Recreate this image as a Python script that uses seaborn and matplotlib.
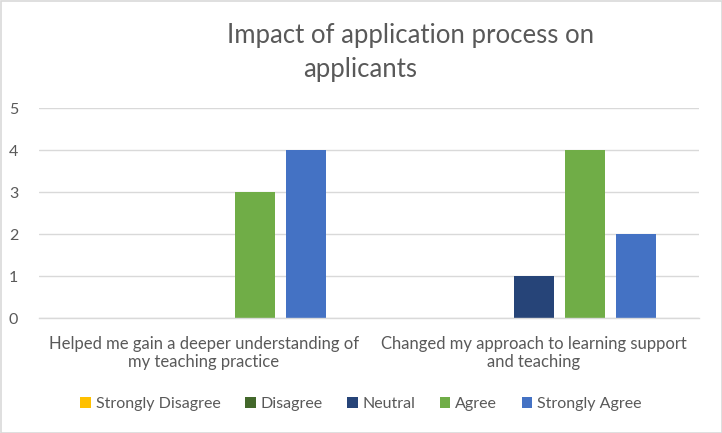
import matplotlib
matplotlib.use("Agg")
import matplotlib.pyplot as plt
import seaborn as sns
import pandas as pd
from matplotlib.patches import Rectangle

categories = ["Helped me gain a deeper understanding of\nmy teaching practice",
              "Changed my approach to learning support\nand teaching"]
series = ["Strongly Disagree", "Disagree", "Neutral", "Agree", "Strongly Agree"]
strongly_disagree = [0, 0]
disagree = [0, 0]
neutral = [0, 1]
agree = [3, 4]
strongly_agree = [4, 2]
colors = ["#FFC000", "#43682B", "#264478", "#70AD47", "#4472C4"]

vals = [strongly_disagree, disagree, neutral, agree, strongly_agree]
rows = []
for s, v in zip(series, vals):
    for c, x in zip(categories, v):
        rows.append({"Category": c, "Response": s, "Value": x})
df = pd.DataFrame(rows)

sns.set_theme(style="white")
plt.rcParams['font.family'] = ['Lato', 'DejaVu Sans']

W, H = 722, 433
fig = plt.figure(figsize=(W / 100, H / 100), dpi=100)
ax = fig.add_axes([39 / W, 1 - 318 / H, 660 / W, 210 / H])

sns.barplot(data=df, x="Category", y="Value", hue="Response", hue_order=series,
            palette=colors, saturation=1, width=0.773, gap=0.216, linewidth=0, ax=ax,
            errorbar=None, legend=True)

ax.set_ylim(0, 5)
ax.set_yticks(range(0, 6))
ax.set_xlim(-0.5, 1.5)
ax.grid(axis="y", color="#D9D9D9", linewidth=1)
ax.set_axisbelow(True)
for sp in ["top", "right", "left"]:
    ax.spines[sp].set_visible(False)
ax.spines["bottom"].set_color("#D9D9D9")
ax.spines["bottom"].set_linewidth(1)
ax.set_xlabel("")
ax.set_ylabel("")
ax.tick_params(axis="y", length=0, labelsize=11.5, colors="#595959", pad=15)
ax.tick_params(axis="x", length=0, labelsize=12, colors="#595959", pad=13)
for t in ax.get_xticklabels():
    t.set_linespacing(1.15)

leg = ax.get_legend()
handles = leg.legend_handles
leg.remove()
fig.legend(handles, series, loc="center", bbox_to_anchor=(361 / W, 1 - 404 / H),
           ncol=5, frameon=False, fontsize=11.5, labelcolor="#595959",
           handlelength=0.65, handleheight=0.65, handletextpad=0.3, columnspacing=1.55)

fig.text(411 / W, 1 - 36 / H, "Impact of application process on", ha="center", va="center",
         fontsize=18.5, color="#595959")
fig.text(360 / W, 1 - 69 / H, "applicants", ha="center", va="center",
         fontsize=18.5, color="#595959")

fig.patches.append(Rectangle((0.5 / W, 0.5 / H), 1 - 1 / W, 1 - 1 / H, transform=fig.transFigure,
                             fill=False, edgecolor="#D9D9D9", linewidth=1.2))

fig.savefig("out.png", dpi=100)
